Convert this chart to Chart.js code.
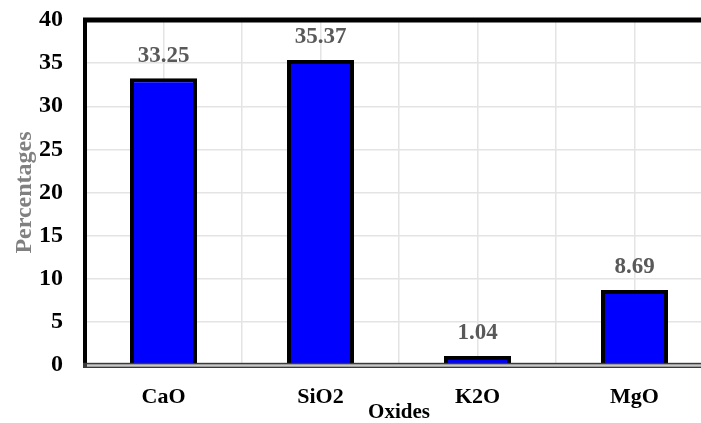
<!DOCTYPE html>
<html lang="en">
<head>
    <meta charset="UTF-8">
    <title>Oxides</title>
    <script src="https://cdn.jsdelivr.net/npm/chart.js"></script>
    <style>
        body {
            margin: 0;
            background-color: #fff;
            overflow: hidden;
        }

        #chart-container {
            position: relative;
            width: 713px;
            height: 423px;
        }
    </style>
</head>
<body>
    <div id="chart-container">
        <canvas id="oxideChart"></canvas>
    </div>

    <script>
        const oxides = ['CaO', 'SiO2', 'K2O', 'MgO'];
        const percentages = [33.25, 35.37, 1.04, 8.69];
        const yTicks = [0, 5, 10, 15, 20, 25, 30, 35, 40];

        const serif = "'Times New Roman', 'Liberation Serif', serif";
        const gridColor = '#e4e4e4';

        // values printed above each bar
        const valueLabels = {
            id: 'valueLabels',
            afterDatasetsDraw(chart) {
                const ctx = chart.ctx;
                const meta = chart.getDatasetMeta(0);
                ctx.save();
                ctx.font = 'bold 23px ' + serif;
                ctx.fillStyle = '#595959';
                ctx.textAlign = 'center';
                ctx.textBaseline = 'middle';
                meta.data.forEach((bar, i) => {
                    ctx.fillText(percentages[i].toFixed(2), bar.x, bar.y - 22.5);
                });
                ctx.restore();
            }
        };

        // thick top frame line and the double baseline
        const frame = {
            id: 'frame',
            afterDatasetsDraw(chart) {
                const ctx = chart.ctx;
                const area = chart.chartArea;
                const y0 = chart.scales.y.getPixelForValue(0);
                const x0 = area.left - 2;
                ctx.save();
                ctx.fillStyle = '#000';
                ctx.fillRect(x0, area.top - 2.5, chart.width - x0, 5);
                ctx.fillStyle = '#3a3a3a';
                ctx.fillRect(x0, y0 - 2.2, chart.width - x0, 5.2);
                ctx.fillStyle = '#c8c8c8';
                ctx.fillRect(x0 + 4, y0 - 0.7, chart.width - x0, 2.4);
                ctx.restore();
            }
        };

        const ctx = document.getElementById('oxideChart').getContext('2d');
        new Chart(ctx, {
            type: 'bar',
            data: {
                labels: oxides,
                datasets: [{
                    data: percentages,
                    backgroundColor: '#0000ff',
                    borderColor: '#000',
                    borderWidth: 4,
                    barPercentage: 0.427,
                    categoryPercentage: 1
                }]
            },
            options: {
                responsive: true,
                maintainAspectRatio: false,
                animation: false,
                layout: { padding: { top: 20, right: 0, left: 0, bottom: 0 } },
                plugins: {
                    legend: { display: false },
                    tooltip: { enabled: false }
                },
                scales: {
                    x: {
                        position: 'bottom',
                        afterFit: s => { s.height = 58; },
                        border: { display: false },
                        grid: { color: gridColor, lineWidth: 1.5, drawTicks: false, offset: true },
                        ticks: {
                            color: '#000',
                            padding: 19,
                            font: { family: serif, size: 22, weight: 'bold' }
                        },
                        title: {
                            display: true,
                            text: 'Oxides',
                            color: '#000',
                            padding: { top: 0, bottom: -2 },
                            font: { family: serif, size: 21, weight: 'bold' }
                        }
                    },
                    // extra grid lines through the category centres
                    x2: {
                        type: 'category',
                        position: 'bottom',
                        afterFit: s => { s.height = 0; },
                        border: { display: false },
                        grid: { color: gridColor, lineWidth: 1.5, drawTicks: false, offset: false },
                        ticks: { display: false }
                    },
                    y: {
                        min: 0,
                        max: 40,
                        afterFit: s => {
                            s.width = 85;
                            s.paddingTop = 0;
                            s.paddingBottom = 0;
                        },
                        afterBuildTicks: s => { s.ticks = yTicks.map(v => ({ value: v })); },
                        border: { display: true, color: '#000', width: 4 },
                        grid: { color: gridColor, lineWidth: 1.5, drawTicks: false },
                        ticks: {
                            color: '#000',
                            padding: 22,
                            font: { family: serif, size: 24, weight: 'bold' }
                        },
                        title: {
                            display: true,
                            text: 'Percentages',
                            color: '#808080',
                            padding: { top: 10, bottom: 0 },
                            font: { family: serif, size: 24, weight: 'bold' }
                        }
                    }
                }
            },
            plugins: [valueLabels, frame]
        });
    </script>
</body>
</html>
